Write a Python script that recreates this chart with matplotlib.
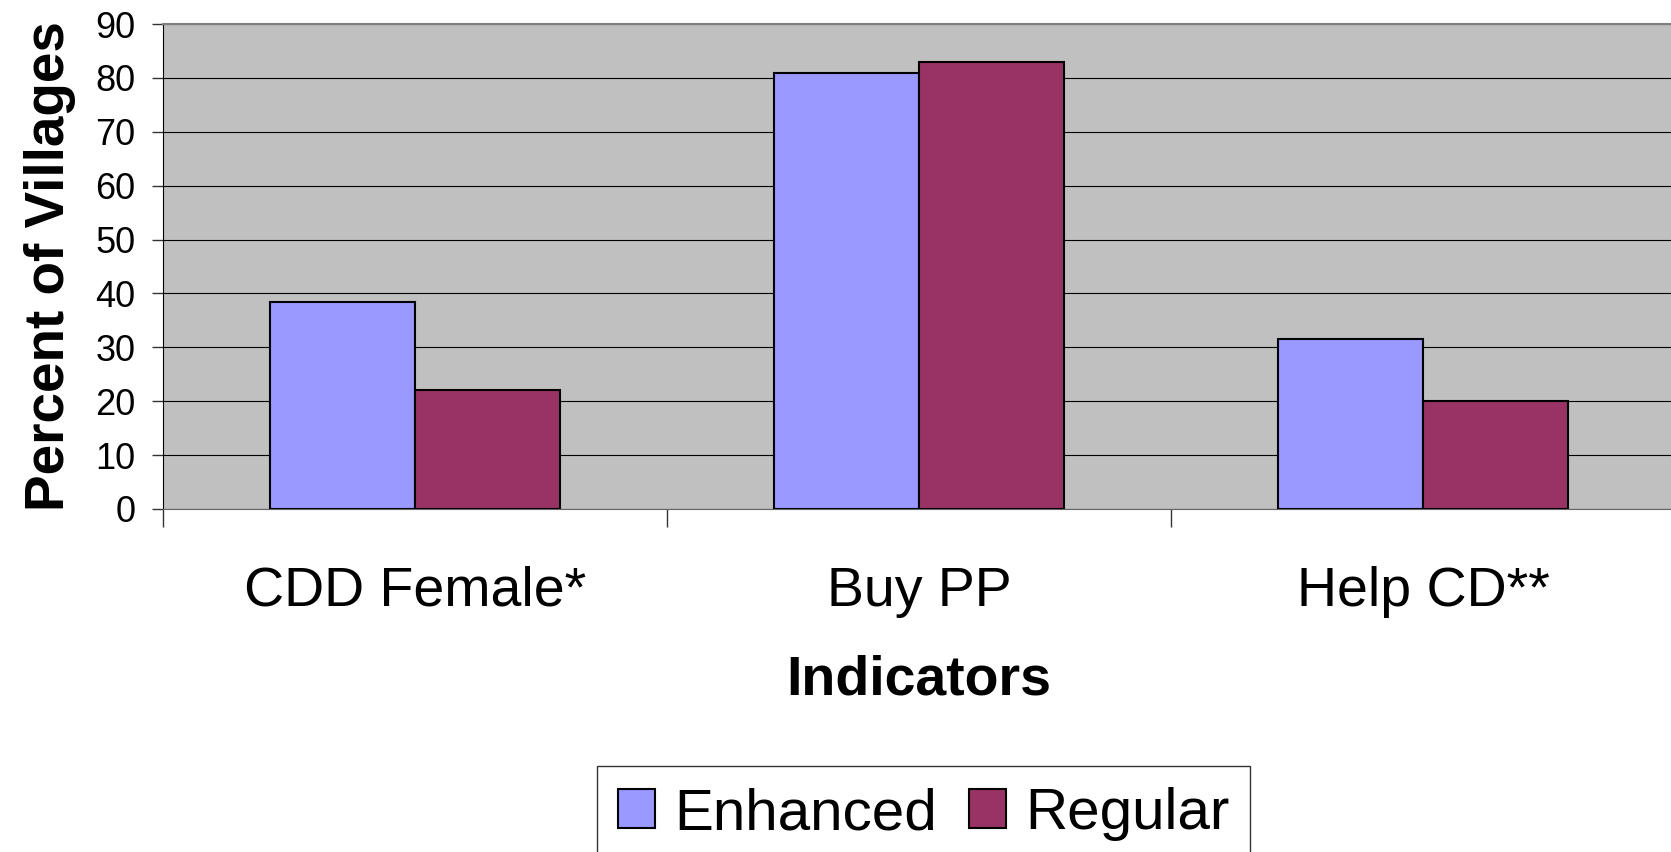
import numpy as np
import matplotlib; matplotlib.use("Agg")
import matplotlib.pyplot as plt

plt.rcParams["font.family"] = ["Liberation Sans", "DejaVu Sans"]

categories = ["CDD Female*", "Buy PP", "Help CD**"]
enhanced = [38.4, 81.0, 31.5]
regular = [22.0, 83.0, 20.0]
series_names = ["Enhanced", "Regular"]
yticks = list(range(0, 91, 10))

W, H = 1671, 852
fig = plt.figure(figsize=(W/100, H/100), dpi=100)
ax = fig.add_axes([163/W, 1-509/H, (1675-163)/W, (509-24)/H])
ax.set_facecolor("#C0C0C0")

x = np.arange(len(categories))
bw = 0.288
ax.bar(x-bw/2, enhanced, bw, color="#9999FF", edgecolor="black", lw=1.5, label=series_names[0], zorder=3)
ax.bar(x+bw/2, regular, bw, color="#993366", edgecolor="black", lw=1.5, label=series_names[1], zorder=3)

ax.set_xlim(-0.5, len(categories)-0.5)
ax.set_ylim(0, 90)
ax.set_yticks(yticks)
ax.tick_params(axis="y", direction="out", length=8, width=1, color="#333333", labelsize=26, pad=12)
ax.yaxis.grid(True, color="black", lw=0.8, zorder=1)
ax.set_axisbelow(True)

# boundaries as major ticks, labels on minor ticks at centers
ax.set_xticks(np.arange(len(categories)+1)-0.5)
ax.set_xticklabels([])
ax.tick_params(axis="x", which="major", direction="out", length=13, width=1, color="#333333")
ax.set_xticks(x, minor=True)
ax.set_xticklabels(categories, minor=True, fontsize=40)
ax.tick_params(axis="x", which="minor", length=0, pad=41)

for s in ["top", "right"]:
    ax.spines[s].set_color("#808080"); ax.spines[s].set_lw(1.5)
ax.spines["bottom"].set_color("#666666")
ax.spines["left"].set_color("black")

ax.set_ylabel("Percent of Villages", fontsize=39.5, fontweight="bold", labelpad=14)
ax.set_xlabel("Indicators", fontsize=40, fontweight="bold", labelpad=26)

leg = fig.legend(loc="upper left", bbox_to_anchor=(597/W, 1-766/H), ncol=2, fontsize=42,
                 frameon=True, fancybox=False, framealpha=1, edgecolor="#333333",
                 handlelength=0.64, handleheight=0.64, handletextpad=0.32,
                 columnspacing=0.55, borderpad=0.36, borderaxespad=0)
leg.get_frame().set_linewidth(1)

fig.savefig("out.png", dpi=100)
